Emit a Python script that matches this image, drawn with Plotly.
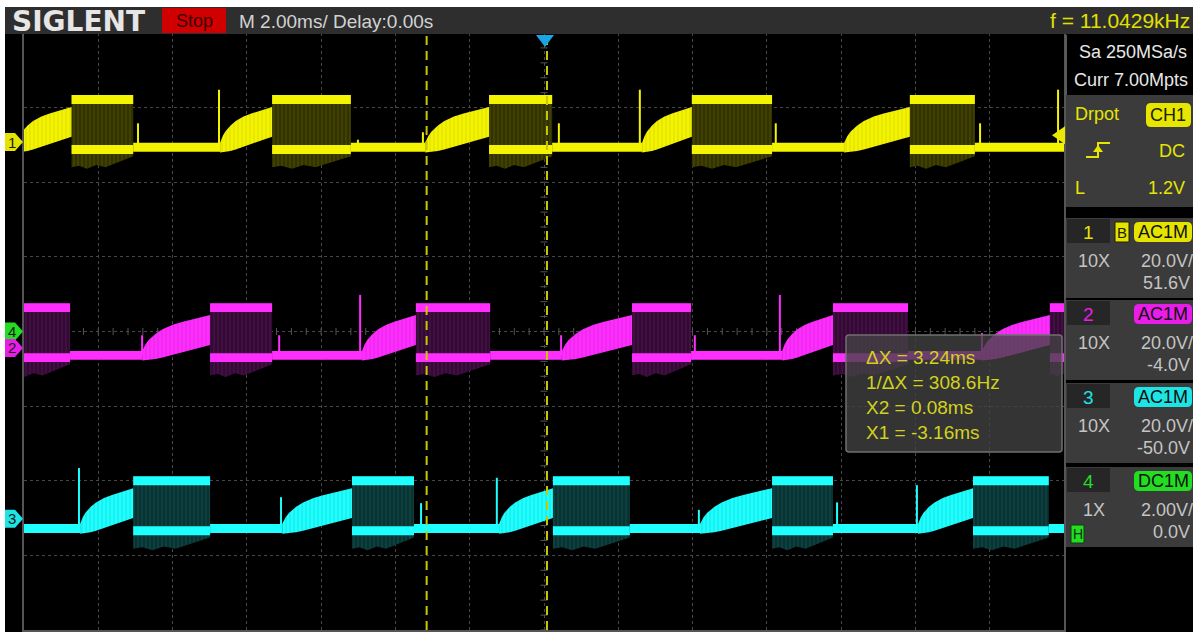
import plotly.graph_objects as go

W, H = 1195, 633

# ---------------- data (time in ms, vertical in screen divisions) ----------------
T_RANGE = [-14.0, 14.0]
V_RANGE = [-4.0, 4.0]
CURSOR_X = [-3.16, 0.08]
TRIG_POS = 0.0
TRIG_LEVEL = 2.63

# charging-ramp envelope (fraction of ramp time -> divisions above baseline)
RAMP_U = [0.0, 0.05, 0.1, 0.2, 0.3, 0.45, 0.6, 0.8, 1.0]
RAMP_TOP = [0.06, 0.15, 0.21, 0.29, 0.35, 0.41, 0.45, 0.50, 0.54]
RAMP_BOT = [-0.07, -0.07, -0.06, -0.05, -0.03, 0.0, 0.04, 0.09, 0.14]

# switching block levels (divisions relative to baseline)
BASE_HALF = 0.06
BLOCK_HIGH = [0.58, 0.70]
BLOCK_LOW = [-0.09, 0.03]
UNDER_U = [0.0, 0.12, 0.25, 0.4, 0.55, 0.7, 0.85, 1.0]
UNDER_D = [-0.27, -0.25, -0.29, -0.24, -0.27, -0.22, -0.17, -0.12]

CH1_BASE = 2.47
CH1_MARK = 2.54
CH1_RAMP_START = [-14.2, -8.72, -3.20, 2.64, 8.08]
CH1_RAMP_END = [-12.72, -7.32, -1.48, 3.98, 9.85]
CH1_BLOCK_START = [-12.72, -7.32, -1.48, 3.98, 9.85]
CH1_BLOCK_END = [-11.06, -5.20, 0.22, 6.14, 11.60]
CH1_SPIKE_T = [-10.93, -8.75, -5.01, -3.26, 0.40, 2.58, 6.24, 11.74, 13.84]
CH1_SPIKE_H = [0.32, 0.77, 0.10, 0.20, 0.32, 0.77, 0.32, 0.32, 0.77]

CH2_BASE = -0.32
CH2_MARK = -0.22
CH2_RAMP_START = [-10.82, -4.90, 0.48, 6.41, 11.79]
CH2_RAMP_END = [-8.99, -3.45, 2.37, 7.78, 13.62]
CH2_BLOCK_START = [-14.4, -8.99, -3.45, 2.37, 7.78, 13.62]
CH2_BLOCK_END = [-12.76, -7.32, -1.45, 3.96, 9.80, 14.4]
CH2_SPIKE_T = [-10.82, -7.13, -4.95, 0.46, 4.06, 6.35, 11.79]
CH2_SPIKE_H = [0.27, 0.27, 0.81, 0.27, 0.27, 0.81, 0.30]

CH3_BASE = -2.64
CH3_MARK = -2.51
CH3_RAMP_START = [-12.49, -7.05, -1.21, 4.20, 10.07]
CH3_RAMP_END = [-11.06, -5.17, 0.24, 6.14, 11.55]
CH3_BLOCK_START = [-11.06, -5.17, 0.24, 6.14, 11.55]
CH3_BLOCK_END = [-8.99, -3.50, 2.31, 7.78, 13.59]
CH3_SPIKE_T = [-12.52, -7.08, -3.31, -1.27, 4.17, 7.89, 10.04]
CH3_SPIKE_H = [0.81, 0.42, 0.34, 0.68, 0.25, 0.35, 0.58]

CH4_MARK = 0.0

MEAS_LINES = ["ΔX = 3.24ms", "1/ΔX = 308.6Hz", "X2 = 0.08ms", "X1 = -3.16ms"]

# ---------------- styles ----------------
FONT = "Liberation Sans, Arial, sans-serif"
COL = {
    1: dict(bright="#f4f400", dark="#333300", streak="#484804", hatch="#d4d400", badge="#e4e400"),
    2: dict(bright="#ff2eff", dark="#330a33", streak="#4a124a", hatch="#dc22dc", badge="#e81ee8"),
    3: dict(bright="#1effff", dark="#093333", streak="#104848", hatch="#18d8d8", badge="#1ee4e4"),
    4: dict(badge="#22dd22"),
}

fig = go.Figure()

# centre-cross minor ticks (drawn first, beneath the traces)
tx = [T_RANGE[0] + 0.4 * i for i in range(71)]
ty = [V_RANGE[0] + 0.2 * i for i in range(41)]
fig.add_trace(go.Scatter(x=tx, y=[0] * len(tx), mode="markers",
                         marker=dict(symbol="line-ns", size=5, line=dict(width=1, color="#555555")),
                         hoverinfo="skip", showlegend=False))
fig.add_trace(go.Scatter(x=[0] * len(ty), y=ty, mode="markers",
                         marker=dict(symbol="line-ew", size=5, line=dict(width=1, color="#555555")),
                         hoverinfo="skip", showlegend=False))


def poly(xs, ys, color, pattern=None):
    fig.add_trace(go.Scatter(
        x=xs, y=ys, mode="lines", line=dict(width=0, color=color),
        fill="toself", fillcolor=color, fillpattern=pattern,
        hoverinfo="skip", showlegend=False))


def channel(ch, base, r0, r1, b0, b1, st, sh):
    c = COL[ch]
    # dark body of switching blocks
    xs, ys = [], []
    for s, e in zip(b0, b1):
        xs += [s, e]
        ys += [base + BLOCK_HIGH[1], base + BLOCK_HIGH[1]]
        for u, d in zip(UNDER_U[::-1], UNDER_D[::-1]):
            xs.append(s + u * (e - s))
            ys.append(base + d)
        xs += [s, None]
        ys += [base + BLOCK_HIGH[1], None]
    poly(xs, ys, c["dark"], dict(shape="|", fgcolor=c["streak"], bgcolor=c["dark"],
                                 size=4, solidity=0.3, fillmode="replace"))
    # bright bands of the blocks
    xs, ys = [], []
    for s, e in zip(b0, b1):
        for lo, hi in (BLOCK_HIGH, BLOCK_LOW):
            xs += [s, e, e, s, s, None]
            ys += [base + lo, base + lo, base + hi, base + hi, base + lo, None]
    poly(xs, ys, c["bright"])
    # baseline segments (outside ramps and blocks)
    busy = sorted(list(zip(r0, r1)) + list(zip(b0, b1)))
    segs, cur = [], -14.6
    for s, e in busy:
        if s > cur:
            segs.append((cur, s))
        cur = max(cur, e)
    if cur < 14.6:
        segs.append((cur, 14.6))
    xs, ys = [], []
    for s, e in segs:
        xs += [s, e, e, s, s, None]
        ys += [base - BASE_HALF, base - BASE_HALF, base + BASE_HALF, base + BASE_HALF,
               base - BASE_HALF, None]
    poly(xs, ys, c["bright"])
    # ramps
    xs, ys = [], []
    for s, e in zip(r0, r1):
        px = [s + u * (e - s) for u in RAMP_U]
        xs += px + px[::-1] + [px[0], None]
        ys += [base + v for v in RAMP_TOP] + [base + v for v in RAMP_BOT[::-1]] + [base + RAMP_TOP[0], None]
    poly(xs, ys, c["bright"], dict(shape="|", fgcolor=c["hatch"], bgcolor=c["bright"],
                                   size=4, solidity=0.2, fillmode="replace"))
    # spikes
    xs, ys = [], []
    for t, h in zip(st, sh):
        xs += [t, t, None]
        ys += [base, base + h, None]
    fig.add_trace(go.Scatter(x=xs, y=ys, mode="lines", line=dict(width=2, color=c["bright"]),
                             hoverinfo="skip", showlegend=False))


channel(1, CH1_BASE, CH1_RAMP_START, CH1_RAMP_END, CH1_BLOCK_START, CH1_BLOCK_END, CH1_SPIKE_T, CH1_SPIKE_H)
channel(2, CH2_BASE, CH2_RAMP_START, CH2_RAMP_END, CH2_BLOCK_START, CH2_BLOCK_END, CH2_SPIKE_T, CH2_SPIKE_H)
channel(3, CH3_BASE, CH3_RAMP_START, CH3_RAMP_END, CH3_BLOCK_START, CH3_BLOCK_END, CH3_SPIKE_T, CH3_SPIKE_H)

# cursors
for cx in CURSOR_X:
    fig.add_trace(go.Scatter(x=[cx, cx], y=V_RANGE, mode="lines",
                             line=dict(color="#c8c800", width=2, dash="9px,6px"),
                             hoverinfo="skip", showlegend=False))

# pixel helper subplot
fig.add_trace(go.Scatter(x=[None], y=[None], xaxis="x2", yaxis="y2", showlegend=False, hoverinfo="skip"))

shapes, ann = [], []


def rect(x0, y0, x1, y1, fill, line=None, lw=0):
    shapes.append(dict(type="rect", xref="x2", yref="y2", x0=x0, y0=y0, x1=x1, y1=y1,
                       fillcolor=fill, line=dict(color=line or fill, width=lw), layer="above"))


def rrect(x0, y0, x1, y1, r, fill, line=None, lw=0):
    p = (f"M {x0+r} {y0} L {x1-r} {y0} Q {x1} {y0} {x1} {y0+r} L {x1} {y1-r} Q {x1} {y1} {x1-r} {y1} "
         f"L {x0+r} {y1} Q {x0} {y1} {x0} {y1-r} L {x0} {y0+r} Q {x0} {y0} {x0+r} {y0} Z")
    shapes.append(dict(type="path", xref="x2", yref="y2", path=p, fillcolor=fill,
                       line=dict(color=line or fill, width=lw), layer="above"))


def text(x, y, s, color, size=18, anchor="left", family=FONT, yref="y2"):
    ann.append(dict(x=x, y=y, xref="x2", yref=yref, text=s, showarrow=False,
                    xanchor=anchor, yanchor="middle", font=dict(family=family, size=size, color=color)))


# header
rect(5, 7, 1193, 34, "#2e2e2e")
text(10, 21, "<b>SIGLENT</b>", "#e6e6e6", 28, family="DejaVu Sans, Liberation Sans, sans-serif")
rect(162, 8, 226, 33, "#d00000")
text(194, 21, "Stop", "#3a0000", 18, "center")
text(237, 21, "M 2.00ms/ Delay:0.00s", "#d2d2d2", 19)
text(1192, 20, "f = 11.0429kHz", "#e0e000", 21, "right")

# trigger position marker
shapes.append(dict(type="path", xref="x2", yref="y2", path="M 536 35 L 554 35 L 545 47 Z",
                   fillcolor="#18a6e2", line=dict(width=0), layer="above"))

# channel ground markers (left)
for mk, colr, lab in ((CH1_MARK, COL[1]["badge"], "1"), (CH4_MARK, COL[4]["badge"], "4"),
                      (CH2_MARK, COL[2]["badge"], "2"), (CH3_MARK, COL[3]["badge"], "3")):
    yc = 331.5 - mk * 74.6
    shapes.append(dict(type="path", xref="x2", yref="y2",
                       path=f"M 5 {yc - 9} L 15 {yc - 9} L 23 {yc} L 15 {yc + 9} L 5 {yc + 9} Z",
                       fillcolor=colr, line=dict(width=0), layer="above"))
    text(12, yc, lab, "#1a1a1a", 15, "center")

# trigger level marker (right)
ty_px = 331.5 - TRIG_LEVEL * 74.6
shapes.append(dict(type="path", xref="x2", yref="y2",
                   path=f"M 1065 {ty_px-9} L 1065 {ty_px+9} L 1052 {ty_px} Z",
                   fillcolor="#e8e800", line=dict(width=0), layer="above"))

# measurement box
rrect(846, 335, 1062, 452, 3, "rgba(66,66,66,0.78)", "#707070", 1.5)
for i, s in enumerate(MEAS_LINES):
    text(864, 357 + i * 25, s, "#d2d21c", 19)

# right panel
shapes.append(dict(type="line", xref="x2", yref="y2", x0=1066, x1=1066, y0=35, y1=95,
                   line=dict(color="#5a5a5a", width=2), layer="above"))
text(1189, 52, "Sa 250MSa/s", "#e8e8e8", 18, "right")
text(1190, 80, "Curr 7.00Mpts", "#e8e8e8", 18, "right")
rect(1066, 95, 1193, 207, "#3b3b3b")
text(1073, 114, "Drpot", "#e6e600", 18)
rrect(1146, 103, 1191, 127, 5, "#e6e600")
text(1168, 115, "CH1", "#202000", 18, "center")
shapes.append(dict(type="path", xref="x2", yref="y2", path="M 1086 157 L 1098 157 L 1098 143 L 1110 143",
                   line=dict(color="#e6e600", width=2), layer="above"))
shapes.append(dict(type="path", xref="x2", yref="y2", path="M 1093 152 L 1103 152 L 1098 145 Z",
                   fillcolor="#e6e600", line=dict(width=0), layer="above"))
text(1187, 151, "DC", "#e6e600", 18, "right")
text(1073, 188, "L", "#e6e600", 18)
text(1187, 188, "1.2V", "#e6e600", 18, "right")

PANELS = [
    (218, "1", COL[1]["badge"], "AC1M", "10X", "20.0V/", "51.6V"),
    (300, "2", COL[2]["badge"], "AC1M", "10X", "20.0V/", "-4.0V"),
    (383, "3", COL[3]["badge"], "AC1M", "10X", "20.0V/", "-50.0V"),
    (467, "4", COL[4]["badge"], "DC1M", "1X", "2.00V/", "0.0V"),
]
for top, num, colr, cpl, probe, scale, off in PANELS:
    rect(1066, top, 1193, top + 80, "#3b3b3b")
    rect(1067, top + 1, 1110, top + 25, "#262626")
    text(1088, top + 14, num, colr, 19, "center")
    rrect(1134, top + 4, 1192, top + 24, 5, colr)
    text(1163, top + 14, cpl, "#101010", 18, "center")
    text(1094, top + 43, probe, "#c4c4c4", 18, "center")
    text(1195, top + 43, scale, "#c4c4c4", 18, "right")
    text(1192, top + 65, off, "#c4c4c4", 18, "right")
rect(1115, 222, 1129, 242, "#e4e400", "#222200", 1)
text(1122, 232, "B", "#202000", 15, "center")
rect(1071, 525, 1084, 543, "#22dd22", "#104010", 1)
text(1077.5, 534, "H", "#103010", 14, "center")

# white frame around the screen
for x0, y0, x1, y1 in ((0, 1 - 7 / H, 1, 1), (0, 0, 5 / W, 1), (1193 / W, 0, 1, 1), (0, 0, 1, 1 / H)):
    shapes.append(dict(type="rect", xref="paper", yref="paper", x0=x0, y0=y0, x1=x1, y1=y1,
                       fillcolor="white", line=dict(width=0), layer="above"))

fig.update_layout(
    width=W, height=H, autosize=False, margin=dict(l=0, r=0, t=0, b=0, pad=0),
    paper_bgcolor="black", plot_bgcolor="rgba(0,0,0,0)",
    xaxis=dict(domain=[24 / W, 1064 / W], range=T_RANGE, dtick=2, tick0=0, showgrid=True,
               gridcolor="#474747", griddash="dot", gridwidth=1, zeroline=False,
               showticklabels=False, ticks="", showline=True, mirror=True,
               linecolor="#555555", linewidth=2, fixedrange=True),
    yaxis=dict(domain=[1 - 630 / H, 1 - 33 / H], range=V_RANGE, dtick=1, tick0=0, showgrid=True,
               gridcolor="#474747", griddash="dot", gridwidth=1, zeroline=False,
               showticklabels=False, ticks="", showline=True, mirror=True,
               linecolor="#555555", linewidth=2, fixedrange=True),
    xaxis2=dict(domain=[0, 1], range=[0, W], visible=False, anchor="y2", fixedrange=True),
    yaxis2=dict(domain=[0, 1], range=[H, 0], visible=False, anchor="x2", fixedrange=True),
    shapes=shapes, annotations=ann, showlegend=False,
)

fig.write_html("out.html", config={"displayModeBar": False})
